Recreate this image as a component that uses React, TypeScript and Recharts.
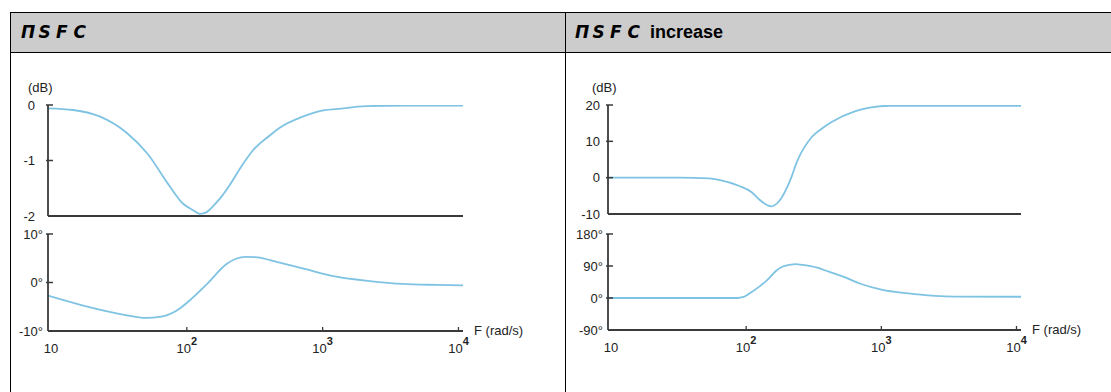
import React from "react";
import { LineChart, Line, XAxis, YAxis } from "recharts";

const CURVE = "#7fc3e3";
const AXIS = "#3a3a3a";
const TEXT = "#222";
const FONT = "'Liberation Sans', Arial, sans-serif";

const F_TICKS = [10, 100, 1000, 10000];
const F_DOMAIN: [number, number] = [9.5, 10800];

// left column: MSFC
const leftMagFreq = [9.5, 14.5, 23, 36, 51, 75, 93, 112, 125, 140, 155, 180, 207, 250, 306, 408, 483, 713, 950, 1300, 2100, 4000, 11000];
const leftMagDb = [-0.06, -0.09, -0.21, -0.5, -0.87, -1.47, -1.77, -1.9, -1.96, -1.93, -1.83, -1.65, -1.44, -1.12, -0.82, -0.55, -0.41, -0.21, -0.11, -0.07, -0.02, -0.01, -0.01];
const leftMagTicks = [-2, -1, 0];

const leftPhaseFreq = [9.5, 17, 31, 51, 63, 85, 105, 141, 196, 230, 270, 330, 466, 712, 1260, 2220, 3900, 6900, 11000];
const leftPhaseDeg = [-2.7, -4.7, -6.4, -7.3, -7.1, -5.7, -3.7, -0.3, 3.8, 4.9, 5.3, 5.2, 4.2, 2.9, 1.2, 0.3, -0.3, -0.5, -0.6];
const leftPhaseTicks = [-10, 0, 10];

// right column: MSFC increase
const rightMagFreq = [9.5, 32, 53, 63, 89, 110, 125, 153, 175, 200, 218, 233, 250, 270, 306, 360, 429, 644, 800, 1165, 11000];
const rightMagDb = [0, 0, -0.2, -0.6, -2.3, -4, -6, -7.9, -6.5, -2.8, 0.5, 3.6, 6.2, 8.4, 11.2, 13.4, 15.3, 18.3, 19.2, 19.8, 19.8];
const rightMagTicks = [-10, 0, 10, 20];

const rightPhaseFreq = [9.5, 85, 97, 110, 125, 141, 155, 166, 185, 209, 232, 259, 330, 408, 540, 700, 1020, 1400, 1770, 2500, 3470, 11000];
const rightPhaseDeg = [0, 0, 4, 17, 32, 48, 64, 76, 88, 93, 95, 93, 86, 74, 58, 40, 23, 15, 11, 6, 4, 3.5];
const rightPhaseTicks = [-90, 0, 90, 180];

const zip = (fs: number[], vs: number[]) => fs.map((f, i) => ({ f, v: vs[i] }));

const FreqTick = (props: any) => {
  const { x, y, payload } = props;
  const exp = Math.round(Math.log10(payload.value));
  return (
    <g>
      {exp > 1 && <line x1={x} x2={x} y1={y} y2={y - 4} stroke={AXIS} strokeWidth={1.3} />}
      <text x={x} y={y + 22} textAnchor="middle" fontSize={13} fill={TEXT} fontFamily={FONT}>
        <tspan>10</tspan>
        {exp > 1 && (
          <tspan dy={-8} fontSize={11} fontWeight="bold">
            {exp}
          </tspan>
        )}
      </text>
    </g>
  );
};

const ValueTick = (props: any) => {
  const { x, y, payload, gap, unit, bottom } = props;
  return (
    <g>
      {payload.value !== bottom && (
        <line x1={x - 2} x2={x + 5} y1={y} y2={y} stroke={AXIS} strokeWidth={1.5} />
      )}
      <text x={x - gap} y={y} dy={4.5} textAnchor="end" fontSize={13} fill={TEXT} fontFamily={FONT}>
        {payload.value}
        {unit}
      </text>
    </g>
  );
};

interface PanelProps {
  left: number;
  top: number;
  width: number;
  height: number;
  data: { f: number; v: number }[];
  yTicks: number[];
  unit: string;
  gap: number;
  freqLabels: boolean;
}

function Panel({ left, top, width, height, data, yTicks, unit, gap, freqLabels }: PanelProps) {
  const lo = yTicks[0];
  const hi = yTicks[yTicks.length - 1];
  return (
    <div style={{ position: "absolute", left, top }}>
      <LineChart
        width={width}
        height={height}
        data={data}
        margin={{ top: 15, right: 17, left: 0, bottom: freqLabels ? 0 : 12 }}
      >
        <XAxis
          dataKey="f"
          type="number"
          scale="log"
          domain={F_DOMAIN}
          ticks={F_TICKS}
          allowDataOverflow
          height={freqLabels ? 30 : 1}
          axisLine={{ stroke: AXIS, strokeWidth: 1.8 }}
          tickLine={false}
          tickSize={0}
          tickMargin={0}
          tick={freqLabels ? (p: any) => <FreqTick {...p} /> : false}
        />
        <YAxis
          type="number"
          domain={[lo, hi]}
          ticks={yTicks}
          width={48}
          interval={0}
          allowDataOverflow
          axisLine={{ stroke: AXIS, strokeWidth: 1.8 }}
          tickLine={false}
          tickSize={0}
          tickMargin={0}
          tick={(p: any) => <ValueTick {...p} gap={gap} unit={unit} bottom={lo} />}
        />
        <Line
          type="monotone"
          dataKey="v"
          stroke={CURVE}
          strokeWidth={1.8}
          dot={false}
          isAnimationActive={false}
        />
      </LineChart>
    </div>
  );
}

const segStyle: React.CSSProperties = {
  display: "inline-block",
  width: 17.5,
  fontFamily: "'DejaVu Sans', sans-serif",
  fontStyle: "italic",
  fontWeight: "bold",
  fontSize: 17,
};

function SegTitle() {
  return (
    <>
      {["Π", "S", "F", "C"].map((c) => (
        <span key={c} style={segStyle}>
          {c}
        </span>
      ))}
    </>
  );
}

const smallText: React.CSSProperties = {
  position: "absolute",
  fontFamily: FONT,
  fontSize: 13,
  lineHeight: "15px",
  color: TEXT,
  whiteSpace: "nowrap",
};

export default function App() {
  return (
    <div style={{ position: "absolute", left: 0, top: 0, width: 1111, height: 392, background: "#fff", overflow: "hidden" }}>
      {/* table frame */}
      <div style={{ position: "absolute", left: 10, top: 12, width: 1110, height: 41, background: "#cccccc", borderTop: "1px solid #000", borderBottom: "1px solid #000", borderLeft: "1px solid #000", boxSizing: "border-box" }} />
      <div style={{ position: "absolute", left: 10, top: 12, width: 1, height: 380, background: "#000" }} />
      <div style={{ position: "absolute", left: 565, top: 12, width: 1, height: 380, background: "#000" }} />

      <div style={{ position: "absolute", left: 21, top: 13, height: 38, display: "flex", alignItems: "center", color: "#000" }}>
        <SegTitle />
      </div>
      <div style={{ position: "absolute", left: 575, top: 13, height: 38, display: "flex", alignItems: "center", color: "#000" }}>
        <SegTitle />
        <span style={{ marginLeft: 5, fontFamily: FONT, fontWeight: "bold", fontSize: 18 }}>increase</span>
      </div>

      <div style={{ ...smallText, left: 28, top: 80 }}>(dB)</div>
      <div style={{ ...smallText, left: 592, top: 80 }}>(dB)</div>
      <div style={{ ...smallText, left: 474, top: 323 }}>F (rad/s)</div>
      <div style={{ ...smallText, left: 1032, top: 322 }}>F (rad/s)</div>

      <Panel left={0} top={90} width={480} height={139} data={zip(leftMagFreq, leftMagDb)} yTicks={leftMagTicks} unit="" gap={13} freqLabels={false} />
      <Panel left={0} top={219} width={480} height={142} data={zip(leftPhaseFreq, leftPhaseDeg)} yTicks={leftPhaseTicks} unit="°" gap={5} freqLabels />
      <Panel left={560} top={90} width={478} height={137} data={zip(rightMagFreq, rightMagDb)} yTicks={rightMagTicks} unit="" gap={8} freqLabels={false} />
      <Panel left={560} top={219} width={478} height={141} data={zip(rightPhaseFreq, rightPhaseDeg)} yTicks={rightPhaseTicks} unit="°" gap={5} freqLabels />
    </div>
  );
}
